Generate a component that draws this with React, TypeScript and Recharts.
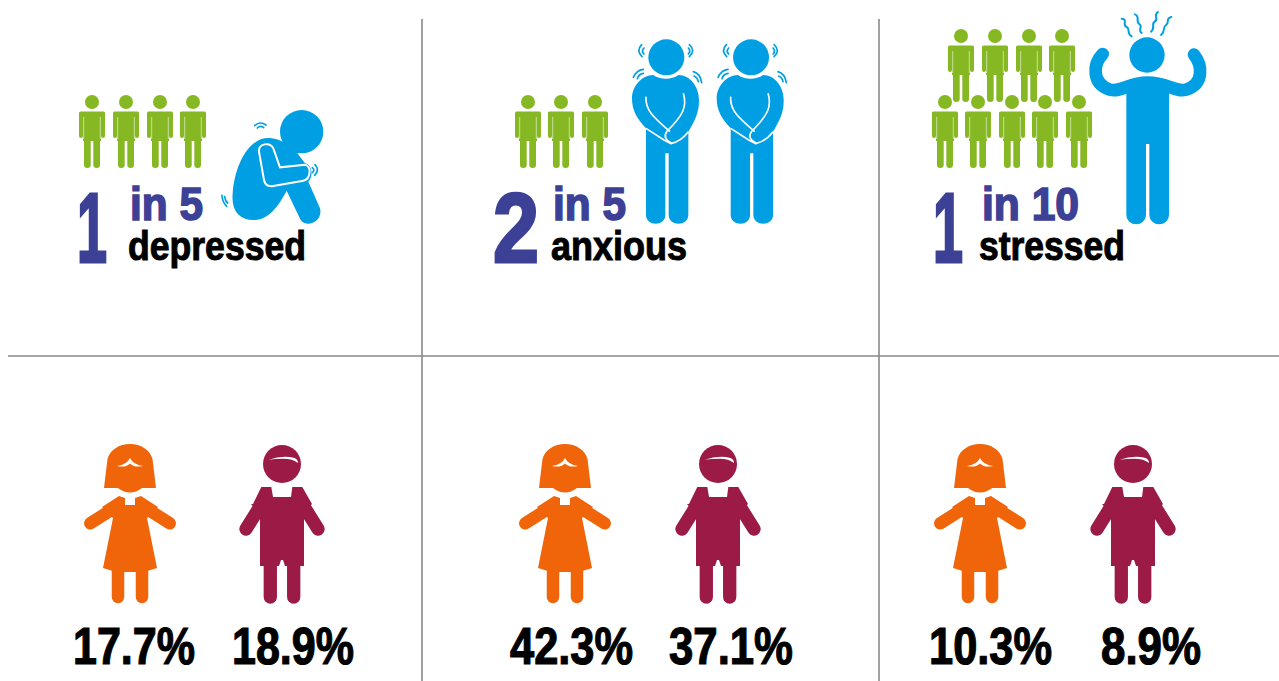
import React from "react";
import { ScatterChart, Scatter, XAxis, YAxis, ReferenceLine } from "recharts";

const conditions = ["depressed", "anxious", "stressed"];
const ratioCounts = [1, 2, 1];
const ratioBases = [5, 5, 10];
const girlShares = [17.7, 42.3, 10.3];
const boyShares = [18.9, 37.1, 8.9];

const W = 1279;
const H = 681;
const BLUE = "#009FE3";
const GREEN = "#86B823";
const INDIGO = "#3C4196";
const ORANGE = "#F0640A";
const MAROON = "#9B1A46";
const RULE = "#8A8A8A";
const FONT = "'Liberation Sans Narrow', 'Liberation Sans', sans-serif";

// layout of each panel (separate from the values above)
const greenAnchors = [
  [[92, 95], [126, 95], [160, 95], [193, 95]],
  [[528, 95], [561, 95], [595, 95]],
  [[961, 29], [995, 29], [1029, 29], [1062, 29], [945, 95], [978, 95], [1012, 95], [1045, 95], [1079, 95]],
];
const bigNumLayout = [[77, 30], [493, 46], [933, 30]];
const inLayout = [[130, 73], [553, 73], [982, 97]];
const wordLayout = [[128, 178], [551, 136], [979, 146]];
const girlX = [130, 565, 980];
const boyX = [282, 718, 1133];
const girlLabel = [[73, 122], [510, 123], [929, 123]];
const boyLabel = [[232, 122], [669, 124], [1101, 100]];

const pt = (x: number, y: number, extra: any = {}) => ({ x, y, ...extra });
const greenData = greenAnchors.flat().map(([x, y]) => pt(x, y));
const textData = conditions.flatMap((c, i) => [
  pt(bigNumLayout[i][0], 262, { label: `${ratioCounts[i]}`, w: bigNumLayout[i][1], fs: 99, color: INDIGO, sw: 3 }),
  pt(inLayout[i][0], 220, { label: `in ${ratioBases[i]}`, w: inLayout[i][1], fs: 46, color: INDIGO, sw: 1.6 }),
  pt(wordLayout[i][0], 260, { label: c, w: wordLayout[i][1], fs: 41, color: "#000", sw: 1 }),
  pt(girlLabel[i][0], 664, { label: `${girlShares[i]}%`, w: girlLabel[i][1], fs: 51, color: "#000", sw: 1.2 }),
  pt(boyLabel[i][0], 664, { label: `${boyShares[i]}%`, w: boyLabel[i][1], fs: 51, color: "#000", sw: 1.2 }),
]);
const girlData = girlX.map((x) => pt(x, 444));
const boyData = boyX.map((x) => pt(x, 445));

const Green = ({ cx, cy }: any) => (
  <g transform={`translate(${cx} ${cy})`} fill={GREEN}>
    <circle cx={0} cy={7} r={7} />
    <path d="M-11.5,16.5H11.5Q13,16.5 13,18V41Q13,43 11,43Q9,43 9,41V46H8V70Q8,73 4.7,73Q1.3,73 1.3,70V46H-1.3V70Q-1.3,73 -4.7,73Q-8,73 -8,70V46H-9V41Q-9,43 -11,43Q-13,43 -13,41V18Q-13,16.5 -11.5,16.5Z" />
    <path d="M-8.3,22V44M8.3,22V44" stroke="#fff" strokeOpacity={0.7} strokeWidth={0.8} fill="none" />
  </g>
);

const Wave = ({ d }: { d: string }) => <path d={d} fill="none" stroke={BLUE} strokeWidth={5} strokeLinecap="round" />;

const Depressed = ({ cx, cy }: any) => (
  <g transform={`translate(${cx} ${cy}) scale(${1 / 3})`}>
    <circle cx={725} cy={155} r={65} fill={BLUE} />
    <path
      fill={BLUE}
      d="M635,175C570,165 525,250 518,340C513,395 540,422 585,420C625,418 655,380 680,332L722,420C740,445 790,425 780,385L745,305C760,290 758,255 735,250L720,230C700,200 670,180 635,175Z"
    />
    <path
      fill="none"
      stroke="#fff"
      strokeWidth={6}
      d="M735,254L660,262L640,205C630,185 595,190 597,215L612,300C615,318 630,320 640,318L730,302C752,298 756,258 735,254"
    />
    <Wave d="M584,137Q600,122 618,135M592,144Q601,135 611,143" />
    <Wave d="M765,254Q780,270 764,286M757,263Q766,270 757,278" />
    <Wave d="M486,346Q486,365 500,379M494,350Q495,362 503,369" />
  </g>
);

const Anxious = ({ cx, cy }: any) => (
  <g transform={`translate(${cx} ${cy}) scale(${1 / 3})`}>
    <circle cx={139} cy={82} r={54} fill={BLUE} />
    <path
      fill={BLUE}
      d="M100,135C120,150 155,150 175,135C210,135 237,170 237,210C237,250 225,270 205,305V555C205,590 146,590 146,555V370H136V555C136,590 78,590 78,555V295C50,265 36,240 36,205C36,170 65,135 100,135Z"
    />
    <path
      fill="none"
      stroke="#fff"
      strokeWidth={5}
      d="M78,200C75,240 100,262 150,305M190,190C202,230 190,255 140,305C130,320 138,332 155,340C175,335 190,325 205,305M78,295L132,330L155,342"
    />
    <Wave d="M65,44Q48,62 66,80M72,54Q63,63 72,72" />
    <Wave d="M208,44Q228,62 208,80M205,54Q214,63 205,72" />
    <Wave d="M40,142Q50,120 70,118M52,146Q56,132 70,130" />
    <Wave d="M220,125Q240,130 245,158M222,138Q232,142 235,155" />
  </g>
);

const Stressed = ({ cx, cy }: any) => (
  <g transform={`translate(${cx} ${cy}) scale(${1 / 3})`}>
    <circle cx={201} cy={150} r={53} fill={BLUE} />
    <path
      fill="none"
      stroke={BLUE}
      strokeWidth={38}
      strokeLinecap="round"
      d="M68,147C38,178 35,236 90,254C125,262 145,233 203,233C262,233 285,262 318,254C374,236 366,178 342,149"
    />
    <path fill={BLUE} d="M139,250H267V628C267,668 208,668 208,628V417H198V628C198,668 139,668 139,628Z" />
    <g fill="none" stroke={BLUE} strokeWidth={6} strokeLinecap="round">
      <path d="M125,41C145,42 125,60 140,66C152,72 138,85 155,94" />
      <path d="M165,28C182,34 165,50 178,57C190,64 172,74 185,84" />
      <path d="M234,21C218,30 238,42 224,50C212,58 228,68 213,80" />
      <path d="M274,36C255,40 270,54 258,60C246,68 258,78 243,90" />
    </g>
  </g>
);

const Girl = ({ cx, cy }: any) => (
  <g transform={`translate(${cx} ${cy})`} fill={ORANGE}>
    <path d="M-26,44L-22.5,15C-20,6 -11,0 0,0C11,0 20,6 22.5,15L26,44H12Q0,53 -12,44Z" />
    <path d="M-13,22Q-3,20.5 0,14Q3,20.5 13,22Q4,24 0,19.5Q-4,24 -13,22Z" fill="#fff" />
    <path d="M-11,52L-5,54V61H5V54L11,52L28,63L26,65L17,74L27,124L14,128H-14L-27,124L-17,74L-26,65L-28,63Z" />
    <path d="M18.7,66L39.7,79.3M-18.7,66L-39.7,79.3M-12,125V153M12,125V153" stroke={ORANGE} strokeWidth={12.5} strokeLinecap="round" fill="none" />
  </g>
);

const Boy = ({ cx, cy }: any) => (
  <g transform={`translate(${cx} ${cy})`} fill={MAROON}>
    <circle cx={0} cy={19} r={19} />
    <path d="M-13.3,14.7Q1,9.7 12.7,13Q16,14.7 16,18Q11,13.7 1,13.7Q-7,13.7 -13.3,14.7Z" fill="#fff" />
    <path d="M-20.7,42H-10.7L-9,52H9L10.3,42H20.3L30,59L28,61L22,70V121H3L1,115H-1L-3,121H-22V70L-31,59L-29,59Z" />
    <path d="M21,60L36,84M-21,60L-36,84M-11.7,118V152M11.7,118V152" stroke={MAROON} strokeWidth={13.3} strokeLinecap="round" fill="none" />
  </g>
);

const Label = (props: any) => {
  const d = props.payload ?? props;
  return (
    <text
      x={props.cx}
      y={props.cy}
      fontFamily={FONT}
      fontWeight={700}
      fontSize={d.fs}
      fill={d.color}
      stroke={d.color}
      strokeWidth={d.sw}
      textLength={d.w}
      lengthAdjust="spacingAndGlyphs"
    >
      {d.label}
    </text>
  );
};

export default function App() {
  return (
    <div style={{ position: "absolute", left: 0, top: 0, width: W, height: H, background: "#fff" }}>
      <ScatterChart width={W} height={H} margin={{ top: 0, right: 0, bottom: 0, left: 0 }}>
        <XAxis type="number" dataKey="x" domain={[0, W]} hide />
        <YAxis type="number" dataKey="y" domain={[0, H]} reversed hide />
        <ReferenceLine segment={[{ x: 422, y: 19 }, { x: 422, y: H }]} stroke={RULE} strokeWidth={1.6} />
        <ReferenceLine segment={[{ x: 879, y: 19 }, { x: 879, y: H }]} stroke={RULE} strokeWidth={1.6} />
        <ReferenceLine segment={[{ x: 8, y: 356 }, { x: W, y: 356 }]} stroke={RULE} strokeWidth={1.6} />
        <Scatter data={greenData} shape={Green} isAnimationActive={false} />
        <Scatter data={[pt(60, 80)]} shape={Depressed} isAnimationActive={false} />
        <Scatter data={[pt(620, 30), pt(704.7, 30)]} shape={Anxious} isAnimationActive={false} />
        <Scatter data={[pt(1080, 5)]} shape={Stressed} isAnimationActive={false} />
        <Scatter data={girlData} shape={Girl} isAnimationActive={false} />
        <Scatter data={boyData} shape={Boy} isAnimationActive={false} />
        <Scatter data={textData} shape={Label} isAnimationActive={false} />
      </ScatterChart>
    </div>
  );
}
